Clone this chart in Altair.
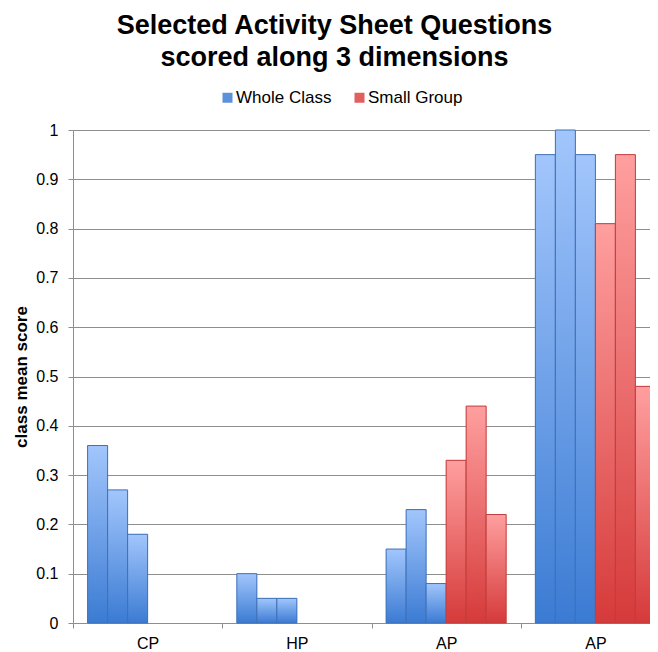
import json
import altair as alt
import pandas as pd

# ---- data ----
categories = ["CP", "HP", "AP", "AP"]
series_names = ["Whole Class", "Small Group"]
whole_class = [[0.36, 0.27, 0.18], [0.10, 0.05, 0.05], [0.15, 0.23, 0.08], [0.95, 1.00, 0.95]]
small_group = [[0.0, 0.0, 0.0], [0.0, 0.0, 0.0], [0.33, 0.44, 0.22], [0.81, 0.95, 0.48]]
y_ticks = [0, 0.1, 0.2, 0.3, 0.4, 0.5, 0.6, 0.7, 0.8, 0.9, 1.0]
title_lines = ["Selected Activity Sheet Questions", "scored along 3 dimensions"]

rows = []
for ci in range(len(categories)):
    for si, vals in enumerate([whole_class, small_group]):
        for k, v in enumerate(vals[ci]):
            rows.append({"slot": ci, "series": series_names[si], "pos": si * 3 + k, "score": v})
df = pd.DataFrame(rows)

FONT = "Liberation Sans"
GRID = "#8e8e8e"

blue_grad = alt.LinearGradient(
    gradient="linear", x1=0, x2=0, y1=0, y2=1,
    stops=[alt.GradientStop(color="#a2c6fc", offset=0),
           alt.GradientStop(color="#3b7bd3", offset=1)])
red_grad = alt.LinearGradient(
    gradient="linear", x1=0, x2=0, y1=0, y2=1,
    stops=[alt.GradientStop(color="#ff9f9f", offset=0),
           alt.GradientStop(color="#d63a3a", offset=1)])

label_expr = json.dumps(categories) + "[datum.value]"

base = alt.Chart(df).transform_filter("datum.score > 0").encode(
    x=alt.X("slot:O",
            scale=alt.Scale(range=[0, 597], paddingInner=0, paddingOuter=0),
            axis=alt.Axis(title=None, labelExpr=label_expr, labelAngle=0, tickBand="extent",
                          tickSize=5, tickColor=GRID, domainColor=GRID, labelFontSize=16,
                          labelColor="#000", labelPadding=7, grid=False, labelFont=FONT)),
    xOffset=alt.XOffset("pos:O", scale=alt.Scale(paddingOuter=0.73, paddingInner=0)),
    y=alt.Y("score:Q",
            scale=alt.Scale(domain=[0, 1], nice=False),
            axis=alt.Axis(values=y_ticks, format=".1~f", grid=True, gridColor=GRID,
                          domainColor=GRID, tickColor=GRID, tickSize=5, labelFontSize=16,
                          labelColor="#000", labelPadding=10, labelFont=FONT,
                          title="class mean score", titleFontSize=17, titleFontWeight="bold",
                          titleColor="#000", titlePadding=5, titleFont=FONT)),
)

legend_layer = base.mark_bar().encode(
    color=alt.Color("series:N",
                    scale=alt.Scale(domain=series_names, range=["#5b90dd", "#e25f5f"]),
                    legend=alt.Legend(orient="none", legendX=146, legendY=-41,
                                      direction="horizontal", title=None, symbolType="square",
                                      symbolSize=100, labelFontSize=17, labelColor="#000",
                                      labelFont=FONT, columnPadding=19, labelOffset=0,
                                      symbolStrokeWidth=0))
)

wc = base.transform_filter(alt.datum.series == series_names[0]).mark_bar(
    color=blue_grad, stroke="#3f71b8", strokeWidth=1)
sg = base.transform_filter(alt.datum.series == series_names[1]).mark_bar(
    color=red_grad, stroke="#c23d3d", strokeWidth=1)

chart = alt.layer(legend_layer, wc, sg).properties(
    width=577,
    height=493,
    title=alt.TitleParams(text=title_lines, fontSize=27, fontWeight="bold", font=FONT,
                          color="#000", anchor="middle", frame="group", dx=-27,
                          offset=17, lineHeight=32),
    autosize=alt.AutoSizeParams(type="none"),
    padding={"left": 65, "top": 122, "right": 0, "bottom": 34},
).configure_view(stroke=None).configure(font=FONT)

chart.save("out.html", embed_options={"renderer": "svg", "actions": False})
